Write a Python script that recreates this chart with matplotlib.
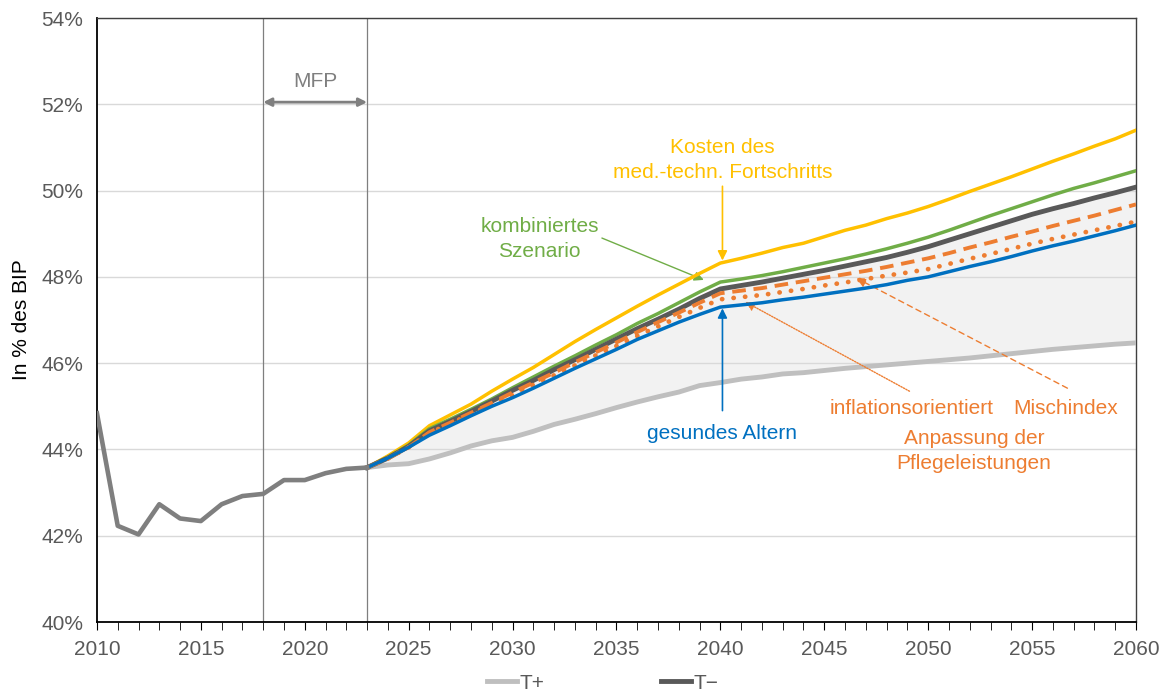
import matplotlib.pyplot as plt
import numpy as np

plt.rcParams['font.family'] = ['Liberation Sans', 'DejaVu Sans']

# historical data 2010-2023
hist_years = np.arange(2010, 2024)
hist = [44.84, 42.23, 42.03, 42.73, 42.40, 42.34, 42.73, 42.92, 42.97,
        43.29, 43.29, 43.45, 43.55, 43.58]

# projections 2023-2060
proj_years = np.arange(2023, 2061)
t_plus = [43.58, 43.64, 43.67, 43.78, 43.92, 44.08, 44.20, 44.28, 44.42, 44.58,
          44.70, 44.83, 44.97, 45.10, 45.22, 45.33, 45.48, 45.55, 45.63, 45.68,
          45.75, 45.78, 45.83, 45.88, 45.92, 45.96, 46.00, 46.04, 46.08, 46.12,
          46.17, 46.22, 46.27, 46.32, 46.36, 46.40, 46.44, 46.47]
t_minus = [43.58, 43.80, 44.07, 44.43, 44.65, 44.88, 45.12, 45.37, 45.60, 45.85,
           46.08, 46.32, 46.56, 46.80, 47.02, 47.25, 47.50, 47.72, 47.80, 47.88,
           47.97, 48.06, 48.15, 48.25, 48.35, 48.45, 48.57, 48.70, 48.85, 49.00,
           49.15, 49.30, 49.45, 49.58, 49.70, 49.83, 49.95, 50.08]
kosten = [43.58, 43.85, 44.15, 44.55, 44.80, 45.05, 45.35, 45.63, 45.90, 46.20,
          46.50, 46.78, 47.05, 47.32, 47.58, 47.83, 48.08, 48.32, 48.43, 48.55,
          48.68, 48.78, 48.93, 49.08, 49.20, 49.35, 49.48, 49.63, 49.80, 49.98,
          50.15, 50.32, 50.50, 50.68, 50.85, 51.03, 51.20, 51.40]
kombiniert = [43.58, 43.82, 44.10, 44.48, 44.70, 44.93, 45.17, 45.43, 45.68, 45.93,
              46.17, 46.42, 46.66, 46.92, 47.15, 47.40, 47.65, 47.88, 47.95, 48.03,
              48.12, 48.22, 48.32, 48.42, 48.53, 48.65, 48.78, 48.92, 49.08, 49.25,
              49.42, 49.58, 49.74, 49.90, 50.05, 50.18, 50.32, 50.46]
gesund = [43.58, 43.80, 44.05, 44.33, 44.55, 44.78, 45.00, 45.20, 45.42, 45.65,
          45.88, 46.10, 46.32, 46.55, 46.75, 46.95, 47.13, 47.30, 47.35, 47.40,
          47.47, 47.53, 47.60, 47.67, 47.74, 47.82, 47.92, 48.00, 48.12, 48.24,
          48.35, 48.47, 48.60, 48.72, 48.83, 48.95, 49.07, 49.20]
mischindex = [43.58, 43.79, 44.05, 44.40, 44.62, 44.85, 45.08, 45.32, 45.55, 45.78,
              46.02, 46.25, 46.48, 46.72, 46.95, 47.17, 47.40, 47.62, 47.68, 47.74,
              47.82, 47.90, 47.98, 48.06, 48.14, 48.23, 48.33, 48.43, 48.55, 48.68,
              48.80, 48.93, 49.05, 49.18, 49.30, 49.42, 49.55, 49.68]
inflation = [43.58, 43.79, 44.05, 44.38, 44.60, 44.82, 45.05, 45.27, 45.50, 45.72,
             45.95, 46.18, 46.40, 46.63, 46.85, 47.07, 47.28, 47.48, 47.53, 47.58,
             47.65, 47.72, 47.80, 47.87, 47.95, 48.03, 48.10, 48.18, 48.30, 48.42,
             48.53, 48.65, 48.77, 48.88, 48.98, 49.08, 49.18, 49.28]

yellow = '#FFC000'
green = '#70AD47'
blue = '#0070C0'
orange = '#ED7D31'
dark = '#595959'
light = '#BFBFBF'
tick_col = '#595959'
fs = 15
ls2 = 1.38  # line spacing of the two-line labels

fig = plt.figure(figsize=(11.68, 6.96), dpi=100)
ax = fig.add_axes([0.083, 0.1063, 0.8896, 0.8678])

ax.fill_between(proj_years, t_plus, t_minus, color='#F2F2F2', lw=0, zorder=1)
ax.axvline(2018, color='#7F7F7F', lw=0.9, zorder=2)
ax.axvline(2023, color='#7F7F7F', lw=0.9, zorder=2)

ax.plot(hist_years, hist, color='#7F7F7F', lw=3.3, zorder=5, solid_joinstyle='round')
ax.plot(proj_years, t_plus, color=light, lw=3.5, label='T+', zorder=3)
ax.plot(proj_years, kosten, color=yellow, lw=2.5, zorder=4)
ax.plot(proj_years, kombiniert, color=green, lw=2.5, zorder=4)
ax.plot(proj_years, t_minus, color=dark, lw=3.5, label='T\u2212', zorder=4)
ax.plot(proj_years, mischindex, color=orange, lw=2.8, ls=(0, (3.5, 2)), zorder=4)
ax.plot(proj_years, inflation, color=orange, lw=3.4, ls=(0, (0.05, 2.4)),
        dash_capstyle='round', zorder=4)
ax.plot(proj_years, gesund, color=blue, lw=2.5, zorder=4)

ax.set_xlim(2010, 2060)
ax.set_ylim(40, 54)
ax.set_yticks(np.arange(40, 55, 2))
ax.set_yticklabels([f'{v}%' for v in range(40, 55, 2)])
ax.set_xticks(np.arange(2010, 2061, 5))
ax.set_xticks(np.arange(2010, 2061, 1), minor=True)
ax.grid(axis='y', color='#D9D9D9', lw=1, zorder=0)
ax.tick_params(axis='y', length=0, labelsize=fs, labelcolor=tick_col, pad=10)
ax.tick_params(axis='x', which='both', length=6, direction='out', color='black',
               labelsize=fs, labelcolor=tick_col, pad=7)
for side in ['left', 'bottom']:
    ax.spines[side].set_color('black')
    ax.spines[side].set_linewidth(1.3)
for side in ['top', 'right']:
    ax.spines[side].set_color('#404040')
    ax.spines[side].set_linewidth(1.0)
ax.set_ylabel('In % des BIP', fontsize=fs, color='black')
ax.yaxis.set_label_coords(-0.063, 0.5)

# annotations
ax.annotate('', xy=(2023, 52.05), xytext=(2018, 52.05),
            arrowprops=dict(arrowstyle='<|-|>', color='#7F7F7F', lw=2,
                            mutation_scale=12, shrinkA=0, shrinkB=0))
ax.text(2020.5, 52.52, 'MFP', color='#7F7F7F', fontsize=fs, ha='center', va='center')

ax.text(2040.1, 50.71, 'Kosten des\nmed.-techn. Fortschritts', color=yellow,
        fontsize=fs, ha='center', va='center', linespacing=ls2)
ax.annotate('', xy=(2040.1, 48.38), xytext=(2040.1, 50.1),
            arrowprops=dict(arrowstyle='-|>', color=yellow, lw=1.2,
                            mutation_scale=14, shrinkA=0, shrinkB=0))

ax.text(2031.3, 48.88, 'kombiniertes\nSzenario', color=green, fontsize=fs,
        ha='center', va='center', linespacing=ls2)
ax.annotate('', xy=(2039.2, 47.93), xytext=(2034.3, 48.9),
            arrowprops=dict(arrowstyle='-|>', color=green, lw=1,
                            mutation_scale=14, shrinkA=0, shrinkB=0))

ax.text(2040.1, 44.36, 'gesundes Altern', color=blue, fontsize=fs,
        ha='center', va='center')
ax.annotate('', xy=(2040.1, 47.27), xytext=(2040.1, 44.9),
            arrowprops=dict(arrowstyle='-|>', color=blue, lw=1.2,
                            mutation_scale=14, shrinkA=0, shrinkB=0))

ax.text(2049.2, 44.94, 'inflationsorientiert', color=orange, fontsize=fs,
        ha='center', va='center')
ax.annotate('', xy=(2041.2, 47.42), xytext=(2049.1, 45.35),
            arrowprops=dict(arrowstyle='-|>', color=orange, lw=1, ls=(0, (1, 1)),
                            mutation_scale=14, shrinkA=0, shrinkB=0))

ax.text(2056.6, 44.94, 'Mischindex', color=orange, fontsize=fs,
        ha='center', va='center')
ax.annotate('', xy=(2046.55, 47.97), xytext=(2056.7, 45.42),
            arrowprops=dict(arrowstyle='-|>', color=orange, lw=1, ls=(0, (4, 3)),
                            mutation_scale=14, shrinkA=0, shrinkB=0))

ax.text(2052.2, 43.97, 'Anpassung der\nPflegeleistungen', color=orange,
        fontsize=fs, ha='center', va='center', linespacing=ls2)

fig.legend(loc='lower center', bbox_to_anchor=(0.516, -0.022), ncol=2, frameon=False,
           fontsize=fs, labelcolor=tick_col, handlelength=1.45, handletextpad=0.1,
           columnspacing=5.6)

fig.savefig('out.png', dpi=100)
